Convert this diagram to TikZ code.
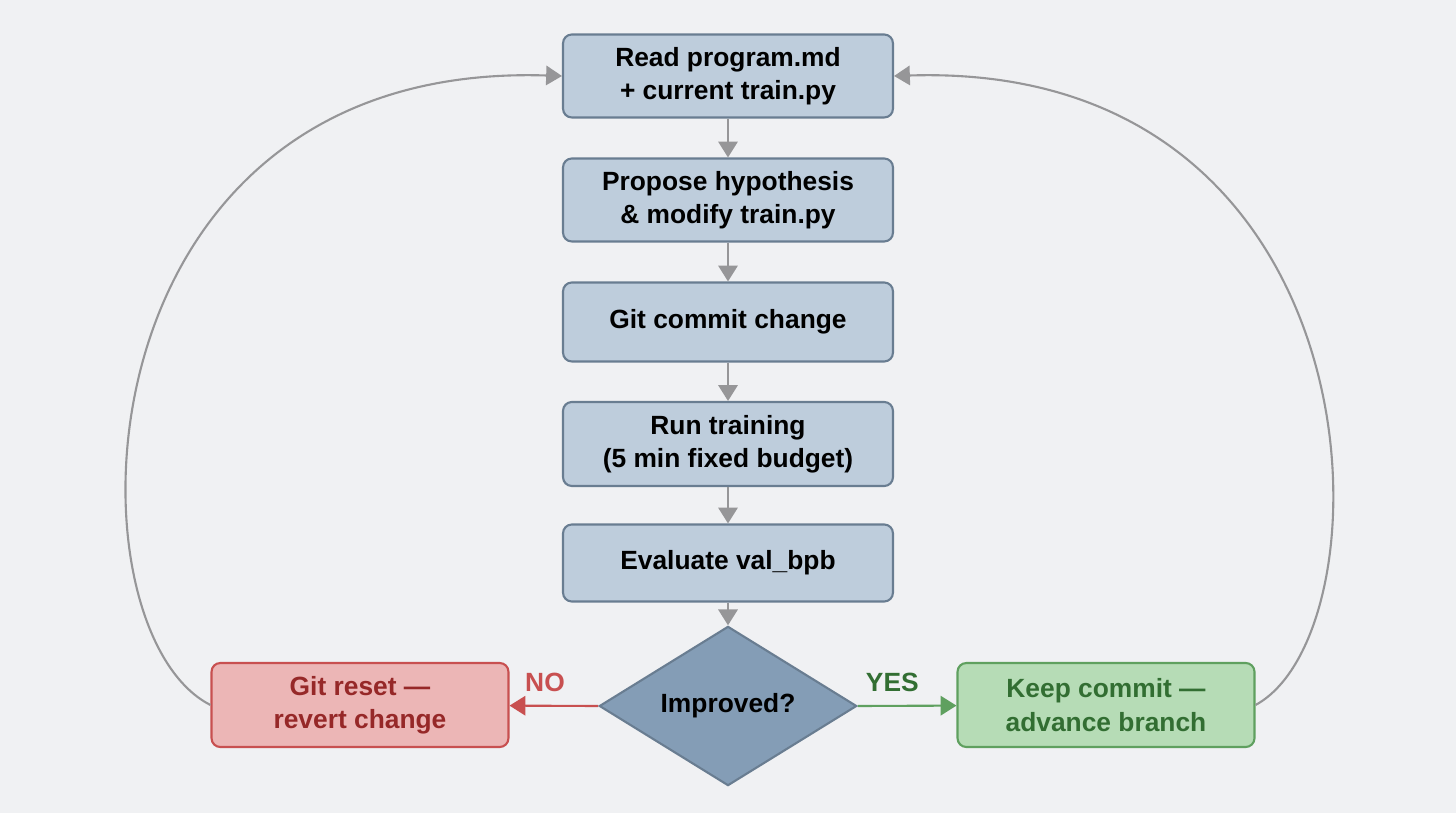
\documentclass[tikz,border=0pt]{standalone}
\usepackage{fontspec}
\setmainfont{Liberation Sans}
\usetikzlibrary{shapes.geometric,arrows.meta}
\definecolor{bg}{RGB}{240,241,243}
\definecolor{boxfill}{RGB}{190,205,220}
\definecolor{boxline}{RGB}{105,125,145}
\definecolor{dfill}{RGB}{132,157,182}
\definecolor{rfill}{RGB}{236,182,182}
\definecolor{rline}{RGB}{200,80,80}
\definecolor{rtext}{RGB}{150,40,40}
\definecolor{gfill}{RGB}{182,220,182}
\definecolor{gline}{RGB}{95,160,95}
\definecolor{gtext}{RGB}{50,110,50}
\definecolor{arr}{RGB}{150,150,152}
\begin{document}
\begin{tikzpicture}[x=0.02cm,y=-0.02cm,
    box/.style={draw=boxline,fill=boxfill,line width=1.2pt,rounded corners=5pt,minimum width=6.6cm,align=center,font=\fontsize{15}{19}\selectfont\bfseries},
    flow/.style={draw=arr,line width=1.2pt,-{Triangle[length=9pt,width=11pt]}}]
    \fill[bg] (0,0) rectangle (1456,813);
    \node[box,minimum height=1.66cm] (read) at (728,76) {Read program.md\\+ current train.py};
    \node[box,minimum height=1.66cm] (prop) at (728,200) {Propose hypothesis\\\& modify train.py};
    \node[box,minimum height=1.58cm] (commit) at (728,322) {Git commit change};
    \node[box,minimum height=1.68cm] (run) at (728,444) {Run training\\(5 min fixed budget)};
    \node[box,minimum height=1.54cm] (eval) at (728,563) {Evaluate val\_bpb};
    \node[diamond,draw=boxline,fill=dfill,line width=1.2pt,minimum width=5.15cm,minimum height=2.5cm,inner sep=0pt,
      font=\fontsize{15}{19}\selectfont\bfseries] (imp) at (728,706) {Improved?};
    \node[box,draw=rline,fill=rfill,text=rtext,minimum width=5.94cm,minimum height=1.68cm] (reset) at (360,705) {Git reset —\\revert change};
    \node[box,draw=gline,fill=gfill,text=gtext,minimum width=5.94cm,minimum height=1.68cm] (keep) at (1106,705) {Keep commit —\\advance branch};
    \draw
      (read) edge[flow] (prop)
      (prop) edge[flow] (commit)
      (commit) edge[flow] (run)
      (run) edge[flow] (eval)
      (eval) edge[flow] (imp.north)
      (imp.west) edge[flow,draw=rline] node[above,text=rline,font=\fontsize{15}{19}\selectfont\bfseries,pos=0.6,yshift=4pt] {NO} (reset)
      (imp.east) edge[flow,draw=gline] node[above,text=gtext,font=\fontsize{15}{19}\selectfont\bfseries,pos=0.35,yshift=4pt] {YES} (keep)
      ;
    \draw[flow] (reset.west) .. controls (62,630) and (70,60) .. (read.west);
    \draw[flow] (keep.east) .. controls (1394,630) and (1386,60) .. (read.east);
\end{tikzpicture}
\end{document}
